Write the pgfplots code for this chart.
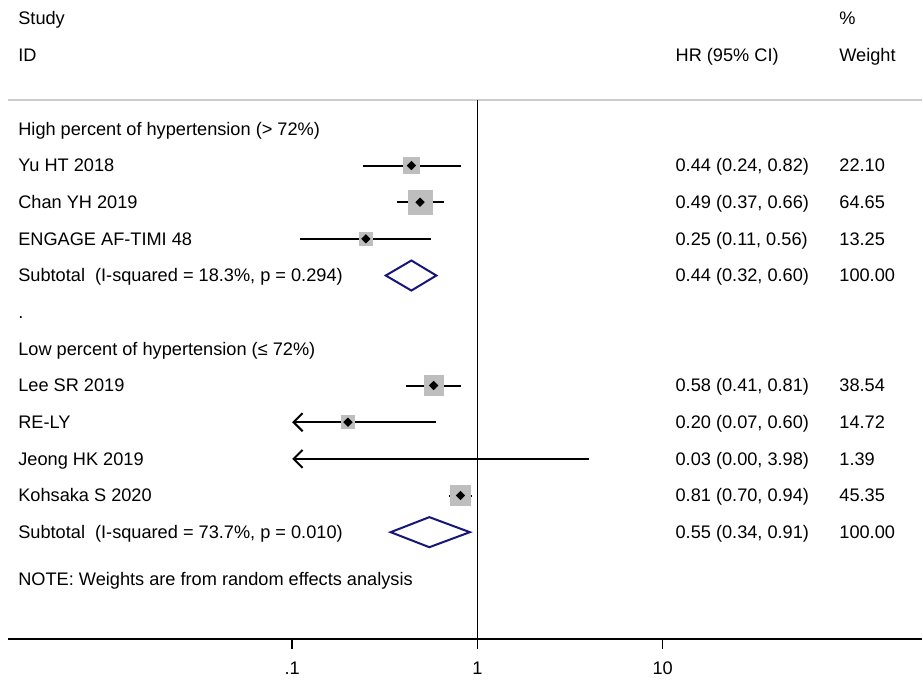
\documentclass[border=0pt]{standalone}
\usepackage{fontspec}
\setmainfont{Liberation Sans}
\usepackage{pgfplots}
\usepackage{pgfplotstable}
\pgfplotsset{compat=1.18}
\usetikzlibrary{arrows.meta}

\definecolor{boxgray}{RGB}{190,190,190}
\definecolor{rulegray}{RGB}{205,205,205}
\definecolor{navy}{RGB}{22,22,122}

% study estimates: plotting row (y), HR, 95% CI bounds, % weight
% (Jeong HK 2019, HR 0.03, lies left of the displayed scale: only its CI is drawn)
\pgfplotstableread{
y   est  lo   hi   w
-1  0.44 0.24 0.82 22.10
-2  0.49 0.37 0.66 64.65
-3  0.25 0.11 0.56 13.25
-7  0.58 0.41 0.81 38.54
-8  0.20 0.07 0.60 14.72
-10 0.81 0.70 0.94 45.35
}\studies

\newcommand{\colA}[2]{\node[txt] at ({rel axis cs:0.0109,0} |- {axis cs:1,#1}) {#2};}
\newcommand{\colB}[2]{\node[txt] at ({rel axis cs:0.7301,0} |- {axis cs:1,#1}) {#2};}
\newcommand{\colC}[2]{\node[txt] at ({rel axis cs:0.9093,0} |- {axis cs:1,#1}) {#2};}

\begin{document}
\fontsize{9.1pt}{11pt}\selectfont
\begin{tikzpicture}[txt/.style={anchor=west, inner sep=0pt, text height=6.4pt, text depth=0pt}]
\begin{axis}[
  scale only axis, width=457.5pt, height=320pt,
  xmode=log, log basis x=10,
  xmin=0.002925, xmax=250.5,
  ymin=-13.92, ymax=3.515,
  axis x line*=bottom, axis y line=none,
  xtick={0.1,1,10}, xticklabels={.1,1,10},
  xticklabel style={yshift=-3pt},
  xminorticks=false,
  tick align=outside, major tick length=5pt,
  x axis line style={line width=1pt},
  xtick style={line width=0.75pt, black},
  clip=false,
]
% header rule and line of no effect
\addplot[rulegray, line width=1.1pt] coordinates {(0.002925,0.79) (250.5,0.79)};
\addplot[black, line width=0.75pt] coordinates {(1,0.79) (1,-13.92)};

% weight boxes
\addplot[boxgray, scatter, only marks, mark=square*,
  mark options={draw=boxgray, fill=boxgray, line width=0pt},
  scatter/use mapped color={draw=boxgray, fill=boxgray},
  visualization depends on={0.825+0.6425*sqrt(\thisrow{w}) \as \msz},
  scatter/@pre marker code/.append style={/tikz/mark size=\msz}]
  table[x=est, y=y] {\studies};

% confidence intervals (bounds below .1 end in an arrow at .1)
\tikzset{ci/.style={black, line width=1pt}}
\addplot[ci] coordinates {(0.24,-1) (0.82,-1)};
\addplot[ci] coordinates {(0.37,-2) (0.66,-2)};
\addplot[ci] coordinates {(0.11,-3) (0.56,-3)};
\addplot[ci] coordinates {(0.41,-7) (0.81,-7)};
\addplot[ci, {Straight Barb[length=4.5pt, width=9pt]}-] coordinates {(0.1,-8) (0.60,-8)};
\addplot[ci, {Straight Barb[length=4.5pt, width=9pt]}-] coordinates {(0.1,-9) (3.98,-9)};
\addplot[ci] coordinates {(0.70,-10) (0.94,-10)};

% point estimates
\addplot[only marks, mark=square*, mark size=1.45pt, mark options={rotate=45}, black]
  table[x=est, y=y] {\studies};

% pooled estimates
\addplot[navy, line width=1pt, fill=white] coordinates {(0.32,-4) (0.44,-3.59) (0.60,-4) (0.44,-4.41)} -- cycle;
\addplot[navy, line width=1pt, fill=white] coordinates {(0.34,-11) (0.55,-10.59) (0.91,-11) (0.55,-11.41)} -- cycle;

% text columns
\colA{3.025}{Study}
\colA{2.02}{ID}
\colA{0}{High percent of hypertension (> 72\%)}
\colA{-1}{Yu HT 2018}
\colA{-2}{Chan YH 2019}
\colA{-3}{ENGAGE AF-TIMI 48}
\colA{-4}{Subtotal\ \ (I-squared = 18.3\%, p = 0.294)}
\colA{-5}{.}
\colA{-6}{Low percent of hypertension (≤ 72\%)}
\colA{-7}{Lee SR 2019}
\colA{-8}{RE-LY}
\colA{-9}{Jeong HK 2019}
\colA{-10}{Kohsaka S 2020}
\colA{-11}{Subtotal\ \ (I-squared = 73.7\%, p = 0.010)}
\colA{-12}{.}
\colA{-12.29}{NOTE: Weights are from random effects analysis}

\colB{2.02}{HR (95\% CI)}
\colB{-1}{0.44 (0.24, 0.82)}
\colB{-2}{0.49 (0.37, 0.66)}
\colB{-3}{0.25 (0.11, 0.56)}
\colB{-4}{0.44 (0.32, 0.60)}
\colB{-7}{0.58 (0.41, 0.81)}
\colB{-8}{0.20 (0.07, 0.60)}
\colB{-9}{0.03 (0.00, 3.98)}
\colB{-10}{0.81 (0.70, 0.94)}
\colB{-11}{0.55 (0.34, 0.91)}

\colC{3.025}{\%}
\colC{2.02}{Weight}
\colC{-1}{22.10}
\colC{-2}{64.65}
\colC{-3}{13.25}
\colC{-4}{100.00}
\colC{-7}{38.54}
\colC{-8}{14.72}
\colC{-9}{1.39}
\colC{-10}{45.35}
\colC{-11}{100.00}

% page margins
\path (rel axis cs:0,1) ++(-4pt,0pt);
\path (rel axis cs:0,0) ++(-4pt,-19.5pt);
\end{axis}
\end{tikzpicture}
\end{document}
